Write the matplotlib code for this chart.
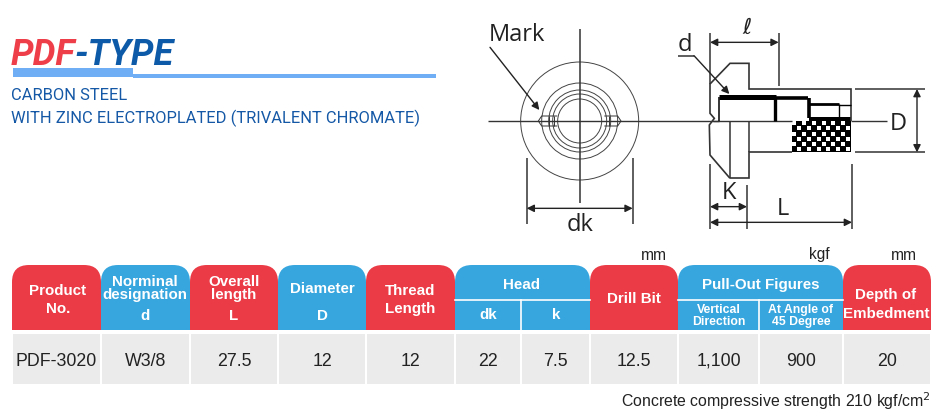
import matplotlib
matplotlib.use('Agg')
import matplotlib.pyplot as plt
import numpy as np
from matplotlib.patches import PathPatch, Rectangle, Circle
from matplotlib.path import Path

plt.rcParams['font.family'] = ['Liberation Sans', 'DejaVu Sans']

# table content
title_red = "PDF"
title_blue = "-TYPE"
subtitle = ["CARBON STEEL", "WITH ZINC ELECTROPLATED (TRIVALENT CHROMATE)"]
head_group = "Head"
head_subs = ["dk", "k"]
pull_group = "Pull-Out Figures"
pull_subs = [["Vertical", "Direction"], ["At Angle of", "45 Degree"]]
row_values = ["PDF-3020", "W3/8", "27.5", "12", "12", "22", "7.5", "12.5", "1,100", "900", "20"]
units = ["mm", "kgf", "mm"]
footnote = "Concrete compressive strength 210 kgf/cm$^{2}$"

RED = '#ea3b46'
BLUE = '#38a6de'
GREY = '#ebebeb'
NAVY = '#1458a6'
INK = '#222222'

# column edges in pixels, the axes below run in image pixels
edges = [12, 101, 190, 278, 366, 455, 521, 590, 678, 759, 843, 931]
head_top, head_mid, head_bot = 265, 300, 330
body_top, body_bot = 334, 384

fig = plt.figure(figsize=(9.5, 4.2), dpi=100)
ax = fig.add_axes([0, 0, 1, 1])
ax.set_xlim(0, 950)
ax.set_ylim(420, 0)
ax.axis('off')


def top_round(x0, x1, y0, y1, color, r=17):
    # box with the two top corners rounded
    verts = [(x0, y1), (x0, y0 + r), (x0, y0), (x0 + r, y0), (x1 - r, y0),
             (x1, y0), (x1, y0 + r), (x1, y1), (x0, y1)]
    codes = [Path.MOVETO, Path.LINETO, Path.CURVE3, Path.CURVE3, Path.LINETO,
             Path.CURVE3, Path.CURVE3, Path.LINETO, Path.CLOSEPOLY]
    ax.add_patch(PathPatch(Path(verts, codes), fc=color, ec='none'))


def white(x, y, s, size=10.9):
    ax.text(x, y, s, color='white', fontsize=size, fontweight='bold', ha='center', va='center')


# header title block
ax.text(11, 65, title_red, color='#ee3e4a', fontsize=26, fontweight='bold', style='italic',
        family='Roboto', va='baseline')
ax.text(74, 65, title_blue, color='#0d5aa8', fontsize=26, fontweight='bold', style='italic',
        family='Roboto', va='baseline')
ax.add_patch(Rectangle((13, 68), 120, 9, fc='#6faef5', ec='none'))
ax.add_patch(Rectangle((133, 74), 303, 3.5, fc='#6faef5', ec='none'))
for yy, line in zip([95, 118], subtitle):
    ax.text(11, yy, line, color=NAVY, fontsize=11.9, va='center', family='Roboto')

# table header
colors = [RED, BLUE, RED, BLUE, RED]
for i, c in enumerate(colors):
    top_round(edges[i], edges[i + 1], head_top, head_bot, c)
top_round(edges[5], edges[7], head_top, head_bot, BLUE)
top_round(edges[7], edges[8], head_top, head_bot, RED)
top_round(edges[8], edges[10], head_top, head_bot, BLUE)
top_round(edges[10], edges[11], head_top, head_bot, RED)

ax.plot([edges[5], edges[7]], [head_mid, head_mid], color='white', lw=1.2)
ax.plot([edges[8], edges[10]], [head_mid, head_mid], color='white', lw=1.2)
ax.plot([edges[6], edges[6]], [head_mid, head_bot], color='white', lw=1.2)
ax.plot([edges[9], edges[9]], [head_mid, head_bot], color='white', lw=1.2)

white(58, 291, "Product")
white(58, 309, "No.")
white(145, 282, "Norminal")
white(145, 295, "designation")
white(145, 316, "d")
white(234, 282, "Overall")
white(234, 295, "length")
white(234, 316, "L")
white(322, 289, "Diameter")
white(322, 316, "D")
white(410, 291, "Thread")
white(410, 309, "Length")
white(522, 285, head_group)
white(488, 315, head_subs[0])
white(556, 315, head_subs[1])
white(634, 299, "Drill Bit")
white(761, 285, pull_group)
for x, sub in zip([719, 801], pull_subs):
    white(x, 310, sub[0], 8.8)
    white(x, 322, sub[1], 8.8)
white(886, 295, "Depth of")
white(886, 314, "Embedment")

# table body
for i, val in enumerate(row_values):
    ax.add_patch(Rectangle((edges[i] + 0.7, body_top), edges[i + 1] - edges[i] - 1.4,
                           body_bot - body_top, fc=GREY, ec='none'))
    ax.text((edges[i] + edges[i + 1]) / 2, 361, val, color=INK, fontsize=12.8, ha='center', va='center')

for x, u in zip([654, 819, 904], units):
    ax.text(x, 255, u, color=INK, fontsize=11.2, ha='center', va='center')
ax.text(931, 401, footnote, color=INK, fontsize=11.4, ha='right', va='center')


# drawing helpers, zoomed crop coordinates -> image pixels
def zl(x, y):
    return x / 3 + 480, y / 3 + 10


def zr(x, y):
    return x / 3 + 670, y / 3 + 10


def poly(points, conv, lw=1.0, color='#333333'):
    p = np.array([conv(*q) for q in points])
    ax.plot(p[:, 0], p[:, 1], color=color, lw=lw, solid_capstyle='butt', solid_joinstyle='miter')


def arrow(a, b, both=False):
    ax.annotate('', xy=b, xytext=a,
                arrowprops=dict(arrowstyle='<|-|>' if both else '-|>', color='#222222', lw=1.0,
                                mutation_scale=11, shrinkA=0, shrinkB=0))


# front view
cx, cy = zl(299, 333)
for r in [59, 38, 31, 27, 22]:
    ax.add_patch(Circle((cx, cy), r, fc='none', ec='#444444', lw=0.7))
poly([(299, 58), (299, 580)], zl, 1.1)
poly([(25, 333), (717, 333)], zl, 1.0)  # centre line runs on into the side view
poly([(232, 318), (185, 318), (175, 333), (185, 348), (232, 348)], zl, 0.7)
poly([(207, 318), (207, 348)], zl, 0.7)
poly([(222, 318), (222, 348)], zl, 0.7)
poly([(373, 318), (413, 318), (423, 333), (413, 348), (373, 348)], zl, 0.7)
poly([(387, 318), (387, 348)], zl, 0.7)
poly([(140, 443), (140, 642)], zl, 1.1)
poly([(458, 443), (458, 642)], zl, 1.1)
arrow(zl(140, 595), zl(458, 595), both=True)
arrow(zl(30, 112), zl(178, 300))
ax.text(489, 35, "Mark", color=INK, fontsize=17, va='center', family=['Open Sans', 'DejaVu Sans'])
ax.text(580, 225, "dk", color=INK, fontsize=17, ha='center', va='center', family=['Open Sans', 'DejaVu Sans'])

# side view outline
poly([(180, 505), (120, 435), (118, 345), (133, 325), (120, 310), (120, 222), (180, 160),
      (237, 160), (237, 237), (543, 237), (543, 333)], zr, 1.2)
poly([(180, 505), (237, 505), (237, 427), (365, 427)], zr, 1.2)
poly([(180, 333), (180, 505)], zr, 1.1)
poly([(237, 333), (237, 427)], zr, 1.1)
poly([(130, 333), (365, 333)], zr, 1.0)
poly([(543, 333), (650, 333)], zr, 1.0)

# thread section
poly([(148, 262), (318, 262)], zr, 3.6, 'black')
poly([(318, 264), (415, 264)], zr, 2.6, 'black')
poly([(415, 282), (508, 282)], zr, 2.0, 'black')
poly([(148, 262), (148, 333)], zr, 1.1, 'black')
poly([(315, 262), (315, 333)], zr, 2.4, 'black')
poly([(417, 264), (417, 325)], zr, 2.6, 'black')
poly([(508, 282), (508, 325)], zr, 1.0, 'black')
poly([(508, 285), (543, 285)], zr, 1.0, 'black')

# knurled end, black block with white dots
x0, y0 = zr(365, 322)
x1, y1 = zr(543, 427)
ax.add_patch(Rectangle((x0 + 17, y0), x1 - x0 - 17, 4, fc='black', ec='none'))
ax.add_patch(Rectangle((x0, y0 + 3.5), x1 - x0, y1 - y0 - 3.5, fc='black', ec='none'))
for k, row_y in enumerate(np.linspace(y0 + 5.7, y1 - 3, 6)):
    dots_x = np.arange(x0 + 2.5 + (k % 2) * 4.9, x1 - 1.5, 9.8)
    ax.scatter(dots_x, np.full_like(dots_x, row_y), s=6.5, marker='s', c='white', linewidths=0)

# side view dimensions
poly([(120, 70), (120, 222)], zr, 1.1)
poly([(326, 70), (326, 228)], zr, 1.1)
arrow(zr(120, 97), zr(326, 97), both=True)
ax.text(*zr(230, 55), "ℓ", color=INK, fontsize=16, style='italic', ha='center', va='center',
        family='DejaVu Sans')
ax.text(*zr(45, 105), "d", color=INK, fontsize=17, ha='center', va='center', family=['Open Sans', 'DejaVu Sans'])
poly([(25, 137), (72, 137)], zr, 1.1)
arrow(zr(72, 137), zr(178, 252))
poly([(555, 237), (765, 237)], zr, 1.1)
poly([(555, 427), (765, 427)], zr, 1.1)
arrow(zr(741, 237), zr(741, 427), both=True)
ax.text(*zr(685, 342), "D", color=INK, fontsize=17, ha='center', va='center', family=['Open Sans', 'DejaVu Sans'])
poly([(120, 462), (120, 658)], zr, 1.1)
poly([(231, 525), (231, 658)], zr, 1.1)
poly([(546, 462), (546, 658)], zr, 1.1)
arrow(zr(120, 590), zr(231, 590), both=True)
arrow(zr(120, 637), zr(546, 637), both=True)
ax.text(*zr(178, 550), "K", color=INK, fontsize=17, ha='center', va='center', family=['Open Sans', 'DejaVu Sans'])
ax.text(*zr(338, 598), "L", color=INK, fontsize=17, ha='center', va='center', family=['Open Sans', 'DejaVu Sans'])

fig.savefig('out.png', dpi=100)
